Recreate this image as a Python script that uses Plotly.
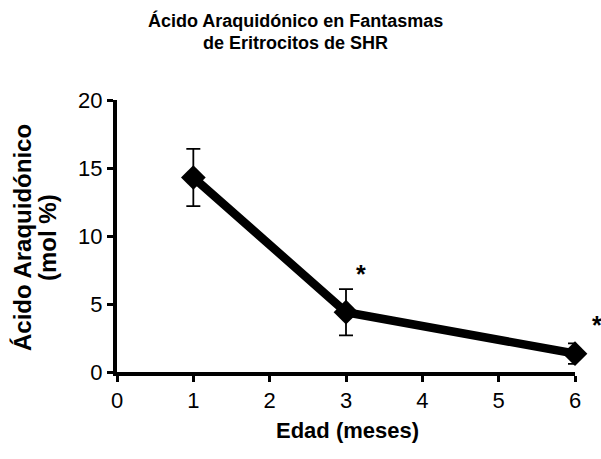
import plotly.graph_objects as go

edad = [1, 3, 6]
acido = [14.3, 4.4, 1.35]
error = [2.1, 1.7, 0.75]
x_ticks = [0, 1, 2, 3, 4, 5, 6]
y_ticks = [0, 5, 10, 15, 20]
sig_x = [3, 6]
sig_shift = [(15, 15), (22, 18)]

FONT = "Liberation Sans, Arial, sans-serif"

fig = go.Figure()
fig.add_trace(go.Scatter(
    x=edad, y=acido, mode="lines+markers",
    line=dict(color="black", width=8.5),
    marker=dict(symbol="diamond", size=19, color="black"),
    error_y=dict(type="data", array=error, visible=True, color="black",
                 thickness=1.8, width=7),
    cliponaxis=False, showlegend=False,
))

for sx, (dx, dy) in zip(sig_x, sig_shift):
    i = edad.index(sx)
    fig.add_annotation(x=sx, y=acido[i] + error[i], xref="x", yref="y",
                       text="<b>*</b>", showarrow=False, xshift=dx, yshift=dy,
                       font=dict(family=FONT, size=25, color="black"))

# Title (two lines)
for txt, ypx in [("Ácido Araquidónico en Fantasmas", 21), ("de Eritrocitos de SHR", 43)]:
    fig.add_annotation(xref="paper", yref="paper", x=(295 - 117) / 458, y=(372 - ypx) / 272,
                       text=f"<b>{txt}</b>", showarrow=False, xanchor="center", yanchor="middle",
                       font=dict(family=FONT, size=18, color="black"))

# Y axis title (two lines)
for txt, xpx in [("Ácido Araquidónico", 22), ("(mol %)", 47)]:
    fig.add_annotation(xref="paper", yref="paper", x=(xpx - 117) / 458, y=(372 - 238) / 272,
                       text=f"<b>{txt}</b>", showarrow=False, textangle=-90,
                       xanchor="center", yanchor="middle",
                       font=dict(family=FONT, size=24, color="black"))

# X axis title
fig.add_annotation(xref="paper", yref="paper", x=(347 - 117) / 458, y=(372 - 430) / 272,
                   text="<b>Edad (meses)</b>", showarrow=False, xanchor="center", yanchor="middle",
                   font=dict(family=FONT, size=22, color="black"))

fig.update_layout(
    width=601, height=459,
    margin=dict(l=117, r=26, t=100, b=87),
    paper_bgcolor="white", plot_bgcolor="white",
    font=dict(family=FONT, size=22, color="black"),
)
fig.update_xaxes(
    range=[0, 6], tickvals=x_ticks, showgrid=False, zeroline=False,
    showline=True, linecolor="black", linewidth=4,
    ticks="outside", ticklen=6, tickwidth=3, tickcolor="black",
    tickfont=dict(family=FONT, size=22),
)
fig.update_yaxes(
    range=[0, 20], tickvals=y_ticks, showgrid=False, zeroline=False,
    showline=True, linecolor="black", linewidth=4,
    ticks="outside", ticklen=6, tickwidth=3, tickcolor="black",
    tickfont=dict(family=FONT, size=22),
)

fig.write_html("out.html")
